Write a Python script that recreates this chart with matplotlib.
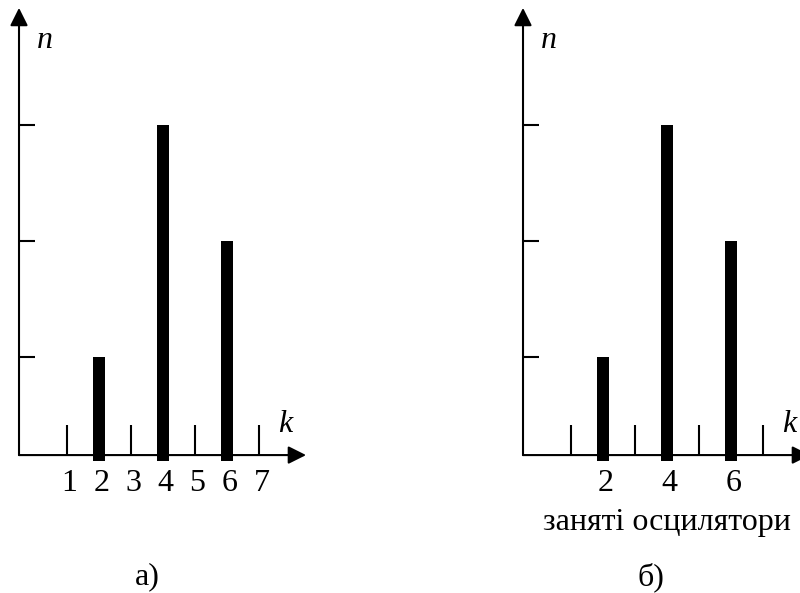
import matplotlib.pyplot as plt

# occupied oscillators k and their counts n
k_bars = [2, 4, 6]
n_bars = [1, 3, 2]
k_odd_ticks = [1, 3, 5, 7]
n_ticks = [1, 2, 3]
left_labels = ['1', '2', '3', '4', '5', '6', '7']
left_label_pos = [1, 2, 3, 4, 5, 6, 7]
right_labels = ['2', '4', '6']
right_label_pos = [2, 4, 6]

plt.rcParams['font.family'] = ['Liberation Serif', 'DejaVu Serif']
FS = 23
y0 = 0.155  # level of the k axis line

fig = plt.figure(figsize=(8, 5.93), dpi=100)


def panel(ax, xlim, labels, label_pos, caption, sub):
    ax.set_xlim(*xlim)
    ax.set_ylim(-1.034, 4.078)
    ax.axis('off')
    arrow = dict(arrowstyle='-|>', mutation_scale=27, lw=1.5, color='black',
                 shrinkA=0, shrinkB=0)
    ax.annotate('', xy=(8.47, y0), xytext=(-0.5, y0), arrowprops=arrow,
                annotation_clip=False)
    ax.annotate('', xy=(-0.5, 4.01), xytext=(-0.5, y0), arrowprops=arrow)
    for t in n_ticks:
        ax.plot([-0.5, 0.0], [t, t], color='black', lw=1.5, solid_capstyle='butt')
    for t in k_odd_ticks:
        ax.plot([t, t], [y0, y0 + 0.26], color='black', lw=1.5, solid_capstyle='butt')
    ax.bar(k_bars, [n - (y0 - 0.05) for n in n_bars], bottom=y0 - 0.05,
           width=0.375, color='black', zorder=3)
    ax.text(0.32, 3.73, 'n', style='italic', fontsize=FS, ha='center', va='center')
    ax.text(7.82, 0.42, 'k', style='italic', fontsize=FS, ha='center', va='center')
    for p, s in zip(label_pos, labels):
        ax.text(p + 0.08, -0.086, s, fontsize=FS, ha='center', va='center')
    if caption:
        ax.text(4, -0.43, caption, fontsize=FS, ha='center', va='center')
    ax.text(3.5, -0.897, sub, fontsize=FS, ha='center', va='center')


ax1 = fig.add_axes([0, 0, 0.5, 1])
panel(ax1, (-1.094, 11.406), left_labels, left_label_pos, None, 'а)')
ax2 = fig.add_axes([0.5, 0, 0.5, 1])
panel(ax2, (-4.344, 8.156), right_labels, right_label_pos, 'заняті осцилятори', 'б)')

fig.savefig('out.png', dpi=100)
